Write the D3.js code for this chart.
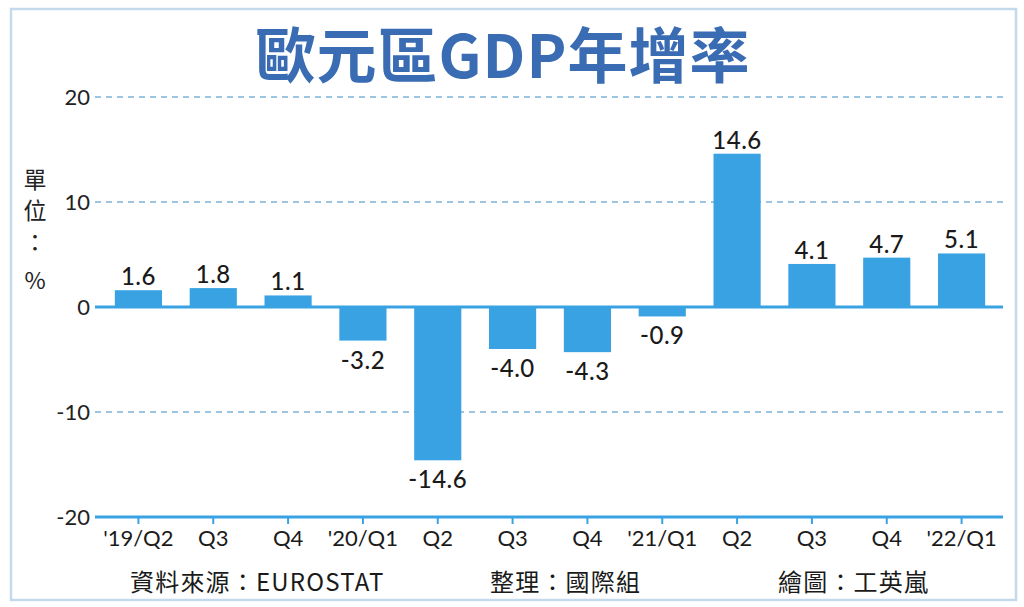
<!DOCTYPE html>
<html>
<head>
<meta charset="utf-8">
<script src="https://cdn.jsdelivr.net/npm/d3@7"></script>
<style>
  body { margin: 0; background: #fff; }
  svg text { font-family: Lato, "Noto Sans CJK TC", sans-serif; }
  .cjk { font-family: "Noto Sans CJK TC", sans-serif; }
</style>
</head>
<body>
<div id="chart"></div>
<script>
// data
const quarters = ["'19/Q2", "Q3", "Q4", "'20/Q1", "Q2", "Q3", "Q4", "'21/Q1", "Q2", "Q3", "Q4", "'22/Q1"];
const growth = [1.6, 1.8, 1.1, -3.2, -14.6, -4.0, -4.3, -0.9, 14.6, 4.1, 4.7, 5.1];
const yTicks = [20, 10, 0, -10, -20];
const unitLabel = ["單", "位", "：", "%"];
const footer = ["資料來源：EUROSTAT", "整理：國際組", "繪圖：工英嵐"];

const W = 1024, H = 607;
const blue = "#38a2e3";

const svg = d3.select("#chart")
  .append("svg")
  .attr("width", W)
  .attr("height", H);

// frame
svg.append("rect")
  .attr("x", 11).attr("y", 9)
  .attr("width", 1005).attr("height", 591)
  .attr("fill", "none")
  .attr("stroke", "#c5d9ee")
  .attr("stroke-width", 2.5);

// title
svg.append("text")
  .attr("class", "cjk")
  .attr("x", 503).attr("y", 78)
  .attr("text-anchor", "middle")
  .attr("font-size", 60)
  .attr("font-weight", 700)
  .attr("letter-spacing", 1)
  .attr("fill", "#3a6cb4")
  .text("歐元區GDP年增率");

const x = d3.scaleBand()
  .domain(d3.range(quarters.length))
  .range([101, 999])
  .paddingInner(0.37)
  .paddingOuter(0.185);

const y = d3.scaleLinear().domain([-20, 20]).range([517, 97]);

const x0 = 95, x1 = 1003;

// dashed grid lines
svg.append("g")
  .selectAll("line")
  .data(yTicks.filter((d) => d !== 0 && d !== -20))
  .join("line")
  .attr("x1", x0).attr("x2", x1)
  .attr("y1", (d) => y(d)).attr("y2", (d) => y(d))
  .attr("stroke", "#7fb3d6")
  .attr("stroke-width", 1.5)
  .attr("stroke-dasharray", "6,5");

// y tick labels
svg.append("g")
  .selectAll("text")
  .data(yTicks)
  .join("text")
  .attr("x", 90)
  .attr("y", (d) => y(d) + 8)
  .attr("text-anchor", "end")
  .attr("font-size", 22)
  .attr("fill", "#222")
  .text((d) => d);

// unit label, stacked vertically
svg.append("g")
  .selectAll("text")
  .data(unitLabel)
  .join("text")
  .attr("class", "cjk")
  .attr("x", 35)
  .attr("y", (d, i) => [188, 219, 251, 289][i])
  .attr("text-anchor", "middle")
  .attr("font-size", 23)
  .attr("fill", "#222")
  .text((d) => d);

// bars
svg.append("g")
  .selectAll("rect")
  .data(growth)
  .join("rect")
  .attr("x", (d, i) => x(i))
  .attr("width", x.bandwidth())
  .attr("y", (d) => y(Math.max(0, d)))
  .attr("height", (d) => Math.abs(y(d) - y(0)))
  .attr("fill", blue);

// zero line
svg.append("line")
  .attr("x1", x0).attr("x2", x1)
  .attr("y1", y(0)).attr("y2", y(0))
  .attr("stroke", blue)
  .attr("stroke-width", 3);

// value labels
svg.append("g")
  .selectAll("text")
  .data(growth)
  .join("text")
  .attr("x", (d, i) => x(i) + x.bandwidth() / 2)
  .attr("y", (d) => d >= 0 ? y(d) - 5 : y(d) + 28)
  .attr("text-anchor", "middle")
  .attr("font-size", 24)
  .attr("font-weight", 500)
  .attr("letter-spacing", 0.5)
  .attr("fill", "#1a1a1a")
  .text((d) => d.toFixed(1));

// bottom axis
const xAxis = d3.axisBottom(x)
  .tickSize(7)
  .tickFormat((i) => quarters[i]);

const ax = svg.append("g")
  .attr("transform", `translate(0, ${y(-20)})`)
  .call(xAxis);

ax.select(".domain").remove();
ax.selectAll(".tick line").attr("stroke", blue).attr("stroke-width", 2);
ax.selectAll(".tick text")
  .attr("y", 13)
  .attr("font-size", 22)
  .attr("font-family", "Lato, sans-serif")
  .attr("fill", "#1a1a1a");

ax.append("line")
  .attr("x1", x0).attr("x2", x1)
  .attr("y1", 0).attr("y2", 0)
  .attr("stroke", blue)
  .attr("stroke-width", 3);

// footer
svg.append("g")
  .selectAll("text")
  .data(footer)
  .join("text")
  .attr("class", "cjk")
  .attr("x", (d, i) => [130, 490, 778][i])
  .attr("y", 591)
  .attr("font-size", 24)
  .attr("letter-spacing", 1.2)
  .attr("fill", "#1a1a1a")
  .text((d) => d);
</script>
</body>
</html>
